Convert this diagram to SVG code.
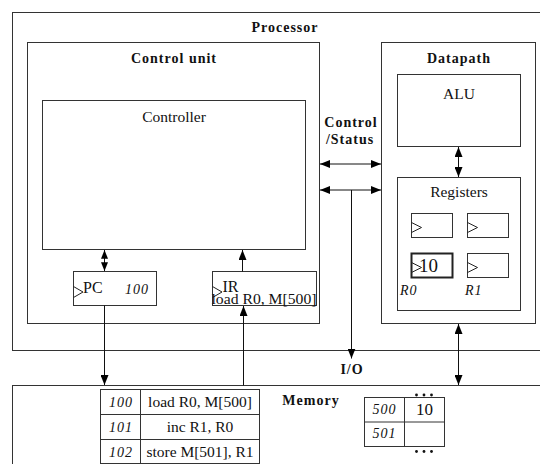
<svg xmlns="http://www.w3.org/2000/svg" width="540" height="464" viewBox="0 0 540 464">
<style>
.box{fill:none;stroke:#333;stroke-width:1}
.thick{fill:none;stroke:#222;stroke-width:2}
.clk{fill:none;stroke:#222;stroke-width:1}
.con{stroke:#111;stroke-width:1;fill:none}
text{font-family:'Liberation Serif','Times New Roman',Tinos,'DejaVu Serif',serif;fill:#111}
.b{font-weight:bold;font-size:14px;letter-spacing:1px}
.r{font-size:15.5px}
.i{font-style:italic;font-size:14px;letter-spacing:1px}
.m{text-anchor:middle}
</style>
<defs>
<marker id="ah" viewBox="0 0 10 8" refX="10" refY="4" markerWidth="10" markerHeight="8" markerUnits="userSpaceOnUse" orient="auto-start-reverse">
<path d="M0,0 L10,4 L0,8 z" fill="#000"/>
</marker>
<marker id="as" viewBox="0 0 10 8" refX="10" refY="4" markerWidth="9" markerHeight="7" markerUnits="userSpaceOnUse" orient="auto-start-reverse">
<path d="M0,0 L10,4 L0,8 z" fill="#000"/>
</marker>
</defs>
<rect x="0" y="0" width="540" height="464" fill="#fff"/>

<g id="processor">
<rect class="box" x="12.5" y="12.5" width="540" height="338"/>
<text class="b m" x="285" y="32" font-family="Liberation Serif, serif">Processor</text>
</g>

<g id="control-unit">
<rect class="box" x="27.5" y="42.5" width="292" height="281"/>
<text class="b m" x="174" y="63" font-family="Liberation Serif, serif">Control unit</text>
</g>

<g id="controller">
<rect class="box" x="42.5" y="100.5" width="263" height="149"/>
<text class="r m" x="174" y="122" font-family="Liberation Serif, serif">Controller</text>
</g>

<g id="pc">
<rect class="box" x="73.5" y="271.5" width="83" height="34"/>
<polyline class="clk" points="73.5,286.5 83,292 73.5,297.5"/>
<text x="83" y="293" font-size="16" font-family="Liberation Serif, serif">PC</text>
<text class="i" x="125" y="293.5" font-family="Liberation Serif, serif">100</text>
</g>

<g id="ir">
<rect class="box" x="212.5" y="271.5" width="104" height="34"/>
<polyline class="clk" points="212.5,286.5 222,292 212.5,297.5"/>
<text x="222.5" y="292" font-size="16" font-family="Liberation Serif, serif">IR</text>
<text class="r" x="211.5" y="303.5" textLength="105" lengthAdjust="spacingAndGlyphs" font-family="Liberation Serif, serif">load R0, M[500]</text>
</g>

<g id="datapath">
<rect class="box" x="381.5" y="42.5" width="154" height="281"/>
<text class="b m" x="459" y="63" font-family="Liberation Serif, serif">Datapath</text>
</g>

<g id="alu">
<rect class="box" x="397.5" y="74.5" width="123" height="72"/>
<text class="r m" x="459" y="99" font-family="Liberation Serif, serif">ALU</text>
</g>

<g id="registers">
<rect class="box" x="397.5" y="177.5" width="123" height="133"/>
<text class="r m" x="459" y="197" font-family="Liberation Serif, serif">Registers</text>
<rect class="box" x="411.5" y="213.5" width="41" height="24"/>
<polyline class="clk" points="411.5,222.5 421.5,227.5 411.5,232.5"/>
<rect class="box" x="467.5" y="213.5" width="41" height="24"/>
<polyline class="clk" points="467.5,222.5 477.5,227.5 467.5,232.5"/>
<rect class="thick" x="411.5" y="253.5" width="41" height="24"/>
<polyline class="clk" points="411.5,262.5 421.5,267.5 411.5,272.5"/>
<text x="419" y="272" font-size="19" font-family="Liberation Serif, serif">10</text>
<rect class="box" x="467.5" y="253.5" width="41" height="24"/>
<polyline class="clk" points="467.5,262.5 477.5,267.5 467.5,272.5"/>
<text class="i" x="400" y="295" letter-spacing="0" font-family="Liberation Serif, serif">R0</text>
<text class="i" x="465" y="295" letter-spacing="0" font-family="Liberation Serif, serif">R1</text>
</g>

<g id="control-status">
<text class="b m" x="351" y="127" font-family="Liberation Serif, serif">Control</text>
<text class="b m" x="350" y="144" font-family="Liberation Serif, serif">/Status</text>
</g>

<g id="io">
<text class="b m" x="352" y="374" font-family="Liberation Serif, serif">I/O</text>
</g>

<g id="memory">
<rect class="box" x="12.5" y="385.5" width="540" height="100" stroke="#111"/>
<text class="b m" x="311" y="405" font-family="Liberation Serif, serif">Memory</text>
<g id="program-table">
<rect class="box" x="100.5" y="389.5" width="159" height="74" stroke="#222"/>
<line class="box" x1="140.5" y1="389.5" x2="140.5" y2="463.5"/>
<line class="box" x1="100.5" y1="414.5" x2="259.5" y2="414.5"/>
<line class="box" x1="100.5" y1="439.5" x2="259.5" y2="439.5"/>
<text class="i m" x="121" y="407" font-family="Liberation Serif, serif">100</text>
<text class="i m" x="121" y="432" font-family="Liberation Serif, serif">101</text>
<text class="i m" x="121" y="457" font-family="Liberation Serif, serif">102</text>
<text class="r m" x="200" y="407" font-family="Liberation Serif, serif">load R0, M[500]</text>
<text class="r m" x="200" y="432" font-family="Liberation Serif, serif">inc R1, R0</text>
<text class="r m" x="200" y="457" font-family="Liberation Serif, serif">store M[501], R1</text>
</g>
<g id="data-table">
<rect class="box" x="364.5" y="397.5" width="80" height="49" stroke="#222"/>
<line class="box" x1="404.5" y1="397.5" x2="404.5" y2="446.5"/>
<line class="box" x1="364.5" y1="422" x2="444.5" y2="422"/>
<text class="i m" x="384.5" y="414" font-family="Liberation Serif, serif">500</text>
<text class="i m" x="384.5" y="438" font-family="Liberation Serif, serif">501</text>
<text class="m" x="424.5" y="415" font-size="17" font-family="Liberation Serif, serif">10</text>
<circle cx="416.5" cy="395" r="1.4" fill="#111"/>
<circle cx="424" cy="395" r="1.4" fill="#111"/>
<circle cx="431.5" cy="395" r="1.4" fill="#111"/>
<circle cx="416.5" cy="451.5" r="1.4" fill="#111"/>
<circle cx="424" cy="451.5" r="1.4" fill="#111"/>
<circle cx="431.5" cy="451.5" r="1.4" fill="#111"/>
</g>
</g>

<g id="connectors">
<line class="con" x1="320" y1="164" x2="381" y2="164" marker-start="url(#ah)" marker-end="url(#ah)"/>
<line class="con" x1="320" y1="190" x2="381" y2="190" marker-start="url(#ah)" marker-end="url(#ah)"/>
<line class="con" x1="351.5" y1="190" x2="351.5" y2="358.5" marker-end="url(#ah)"/>
<line class="con" x1="458.5" y1="147" x2="458.5" y2="177" marker-start="url(#ah)" marker-end="url(#ah)"/>
<line class="con" x1="104.5" y1="250" x2="104.5" y2="271" marker-start="url(#as)" marker-end="url(#as)"/>
<line class="con" x1="242.5" y1="271.5" x2="242.5" y2="250" marker-end="url(#ah)"/>
<line class="con" x1="243.5" y1="385.5" x2="243.5" y2="306" marker-end="url(#ah)"/>
<line class="con" x1="104.5" y1="305.5" x2="104.5" y2="385" marker-end="url(#ah)"/>
<line class="con" x1="458.5" y1="324" x2="458.5" y2="385" marker-start="url(#ah)" marker-end="url(#ah)"/>
</g>
</svg>
